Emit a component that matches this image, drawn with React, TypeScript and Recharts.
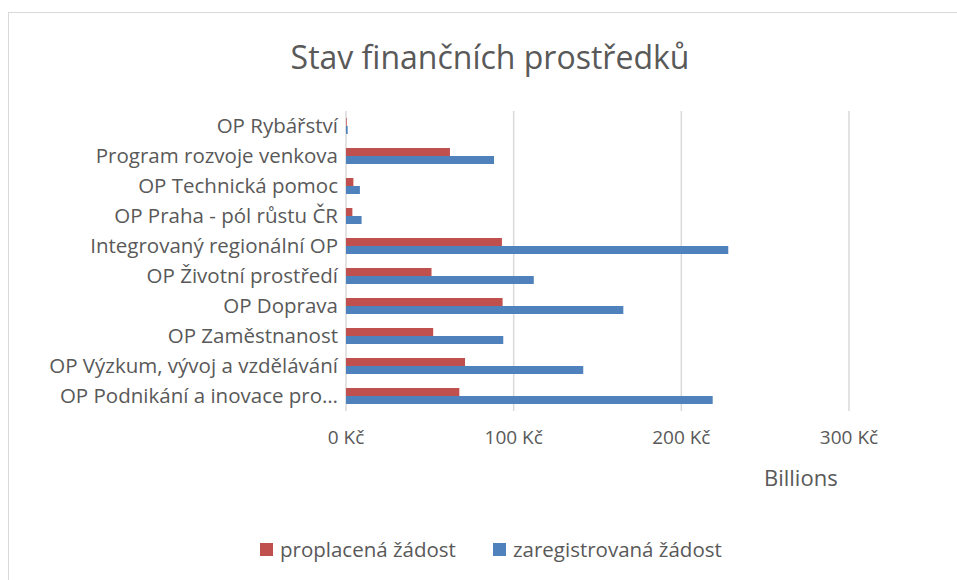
import { BarChart, Bar, XAxis, YAxis, CartesianGrid } from "recharts";

const categories = [
  "OP Rybářství",
  "Program rozvoje venkova",
  "OP Technická pomoc",
  "OP Praha - pól růstu ČR",
  "Integrovaný regionální OP",
  "OP Životní prostředí",
  "OP Doprava",
  "OP Zaměstnanost",
  "OP Výzkum, vývoj a vzdělávání",
  "OP Podnikání a inovace pro…",
];

// billions CZK
const paid = [0.4, 62, 4.4, 3.8, 93, 51, 93.4, 52, 71, 67.6];
const registered = [1.0, 88.3, 8.3, 9.3, 228, 112, 165.4, 93.8, 141.5, 218.7];

const xTicks = [0, 100, 200, 300];

const RED = "#C0504D";
const BLUE = "#4F81BD";
const TEXT = "#595959";
const FONT = "'Open Sans', sans-serif";

const data = categories.map((name, i) => ({
  name,
  paid: paid[i],
  registered: registered[i],
}));

export default function App() {
  return (
    <div
      style={{
        position: "fixed",
        left: 0,
        top: 0,
        width: 957,
        height: 580,
        overflow: "hidden",
        background: "#fff",
        fontFamily: FONT,
        color: TEXT,
      }}
    >
      <div
        style={{
          position: "absolute",
          left: 8,
          top: 12,
          width: 1000,
          height: 700,
          borderTop: "1.5px solid #d9d9d9",
          borderLeft: "1.5px solid #d9d9d9",
        }}
      />
      <div
        style={{
          position: "absolute",
          left: 8,
          top: 35,
          width: 964,
          textAlign: "center",
          fontSize: 32,
        }}
      >
        Stav finančních prostředků
      </div>

      <div style={{ position: "absolute", left: 8, top: 8 }}>
        <BarChart
          layout="vertical"
          width={941}
          height={564}
          data={data}
          margin={{ top: 103, right: 100, bottom: 0, left: 0 }}
          barGap={0}
          barSize={8}
        >
          <CartesianGrid horizontal={false} stroke="#d9d9d9" strokeWidth={1.5} />
          <XAxis
            type="number"
            domain={[0, 300]}
            ticks={xTicks}
            tickFormatter={(v) => `${v} Kč`}
            tickLine={false}
            axisLine={false}
            tickMargin={14}
            height={161}
            tick={{ fill: TEXT, fontSize: 19, fontFamily: FONT }}
          />
          <YAxis
            type="category"
            dataKey="name"
            width={338}
            tickLine={false}
            axisLine={false}
            interval={0}
            tick={{ fill: TEXT, fontSize: 20.5, fontFamily: FONT }}
          />
          <Bar dataKey="paid" fill={RED} isAnimationActive={false} />
          <Bar dataKey="registered" fill={BLUE} isAnimationActive={false} />
        </BarChart>
      </div>

      <div
        style={{
          position: "absolute",
          left: 764,
          top: 462,
          fontSize: 22,
        }}
      >
        Billions
      </div>

      <div
        style={{
          position: "absolute",
          left: 260,
          top: 535,
          display: "flex",
          alignItems: "center",
          fontSize: 20.5,
        }}
      >
        <span style={{ width: 13, height: 13, background: RED, marginRight: 7 }} />
        <span>proplacená žádost</span>
        <span
          style={{ width: 13, height: 13, background: BLUE, marginLeft: 37, marginRight: 7 }}
        />
        <span>zaregistrovaná žádost</span>
      </div>
    </div>
  );
}
